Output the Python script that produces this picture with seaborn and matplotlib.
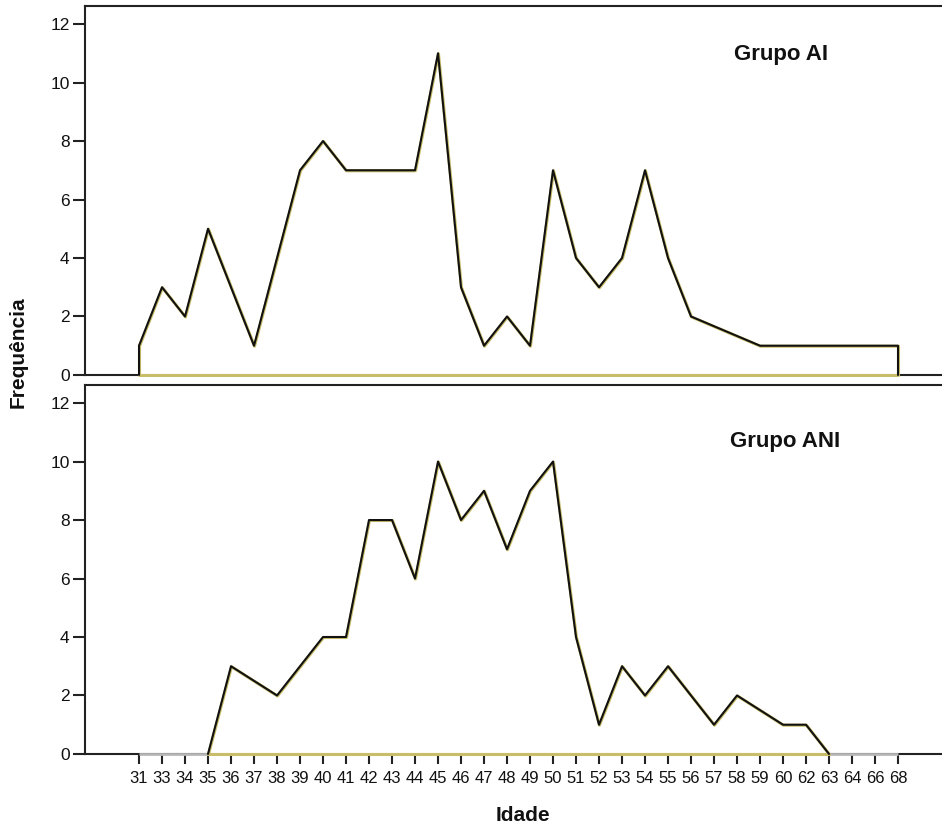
import numpy as np
import pandas as pd
import matplotlib
matplotlib.use('Agg')
import matplotlib.pyplot as plt
import seaborn as sns

# Idades (categorias do eixo x)
idades = ['31', '33', '34', '35', '36', '37', '38', '39', '40', '41', '42', '43',
          '44', '45', '46', '47', '48', '49', '50', '51', '52', '53', '54', '55',
          '56', '57', '58', '59', '60', '62', '63', '64', '66', '68']

# Frequências por grupo (nan = idade sem registro no grupo)
grupo_ai = [1, 3, 2, 5, np.nan, 1, np.nan, 7, 8, 7, 7, 7, 7, 11, 3, 1, 2, 1,
            7, 4, 3, 4, 7, 4, 2, np.nan, np.nan, 1, 1, 1, 1, 1, 1, 1]
grupo_ani = [0, 0, 0, 0, 3, np.nan, 2, 3, 4, 4, 8, 8, 6, 10, 8, 9, 7, 9,
             10, 4, 1, 3, 2, 3, 2, 1, 2, np.nan, 1, 1, 0, 0, 0, 0]

y_ticks = [0, 2, 4, 6, 8, 10, 12]

COR_LINHA = '#111111'
COR_BORDA = '#c9bd6a'


def painel(ax, valores, titulo, tx, ty):
    df = pd.DataFrame({'pos': np.arange(len(idades)), 'freq': valores}).dropna()
    df = df.reset_index(drop=True)

    # Trecho ativo do polígono (entre zeros das pontas)
    nz = np.flatnonzero(df['freq'].values > 0)
    ini = max(nz[0] - 1, 0)
    fim = min(nz[-1] + 1, len(df) - 1)
    ativo = df.iloc[ini:fim + 1]

    # Linha de base cinza para as idades com frequência zero
    ax.hlines(0, df['pos'].min(), df['pos'].max(), color='#b8b8b8', lw=2,
              zorder=3, clip_on=False)

    # Área branca com borda amarelada
    ax.fill_between(ativo['pos'], ativo['freq'], 0, facecolor='white',
                    edgecolor=COR_BORDA, lw=2.2, zorder=4, clip_on=False)

    # Contorno preto (fecha com verticais quando a ponta não é zero)
    contorno = ativo.copy()
    if contorno['freq'].iloc[0] > 0:
        contorno = pd.concat([pd.DataFrame({'pos': [contorno['pos'].iloc[0]], 'freq': [0]}), contorno])
    if contorno['freq'].iloc[-1] > 0:
        contorno = pd.concat([contorno, pd.DataFrame({'pos': [contorno['pos'].iloc[-1]], 'freq': [0]})])
    contorno = contorno.reset_index(drop=True)
    sns.lineplot(data=contorno, x='pos', y='freq', sort=False, estimator=None,
                 ax=ax, color=COR_LINHA, lw=1.5, zorder=5, clip_on=False)

    ax.set_xlim(-2.35, 35.74)
    ax.set_ylim(0, 12.62)
    ax.set_yticks(y_ticks)
    ax.set_yticklabels([str(v) for v in y_ticks])
    ax.tick_params(axis='y', left=True, length=9, width=1.5, labelsize=12.5,
                   pad=2, color='#222222', labelcolor='#111111')
    ax.set_xlabel('')
    ax.set_ylabel('')
    for lado in ['left', 'top', 'bottom']:
        ax.spines[lado].set_linewidth(1.5)
        ax.spines[lado].set_color('#222222')
    ax.spines['right'].set_visible(False)
    ax.text(tx, ty, titulo, fontsize=16, fontweight='bold', ha='center',
            va='center', color='#111111')


sns.set_style('white')
plt.rcParams['font.family'] = ['Liberation Sans', 'DejaVu Sans']

fig = plt.figure(figsize=(9.42, 8.25), dpi=100)
ax1 = fig.add_axes([0.0902, 0.5455, 0.93, 0.4473])
ax2 = fig.add_axes([0.0902, 0.0861, 0.93, 0.4473])

painel(ax1, grupo_ai, 'Grupo AI', 27.9, 10.95)
painel(ax2, grupo_ani, 'Grupo ANI', 28.1, 10.7)

ax1.set_xticks([])
ax2.set_xticks(np.arange(len(idades)))
ax2.set_xticklabels(idades)
ax2.tick_params(axis='x', bottom=True, length=7, width=1.5, labelsize=12,
                pad=5, color='#222222', labelcolor='#111111')

fig.text(0.019, 0.573, 'Frequência', rotation=90, fontsize=15,
         fontweight='bold', ha='center', va='center', color='#111111')
fig.text(0.555, 0.0, 'Idade', fontsize=15, fontweight='bold',
         ha='center', va='bottom', color='#111111')

fig.savefig('out.png', dpi=100)
